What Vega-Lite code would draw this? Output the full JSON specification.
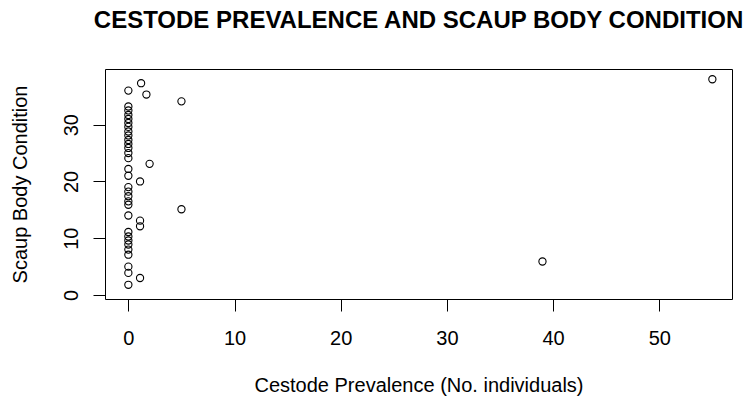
{
  "$schema": "https://vega.github.io/schema/vega-lite/v6.json",
  "width": 627,
  "height": 230,
  "autosize": {"type": "none"},
  "padding": {"left": 105, "top": 69, "right": 22, "bottom": 101},
  "background": "white",
  "title": {
    "text": "CESTODE PREVALENCE AND SCAUP BODY CONDITION",
    "font": "Liberation Sans",
    "fontSize": 24,
    "fontWeight": "bold",
    "color": "#000",
    "anchor": "middle",
    "baseline": "alphabetic",
    "offset": 17.5
  },
  "data": {
    "values": [
      {"cestodes": 0, "condition": 36.0},
      {"cestodes": 0, "condition": 33.2},
      {"cestodes": 0, "condition": 32.5},
      {"cestodes": 0, "condition": 31.7},
      {"cestodes": 0, "condition": 31.0},
      {"cestodes": 0, "condition": 30.3},
      {"cestodes": 0, "condition": 29.6},
      {"cestodes": 0, "condition": 28.8},
      {"cestodes": 0, "condition": 28.1},
      {"cestodes": 0, "condition": 27.3},
      {"cestodes": 0, "condition": 26.6},
      {"cestodes": 0, "condition": 25.9},
      {"cestodes": 0, "condition": 25.0},
      {"cestodes": 0, "condition": 24.1},
      {"cestodes": 0, "condition": 22.2},
      {"cestodes": 0, "condition": 21.0},
      {"cestodes": 0, "condition": 19.0},
      {"cestodes": 0, "condition": 18.2},
      {"cestodes": 0, "condition": 17.4},
      {"cestodes": 0, "condition": 16.5},
      {"cestodes": 0, "condition": 15.9},
      {"cestodes": 0, "condition": 14.0},
      {"cestodes": 0, "condition": 11.1},
      {"cestodes": 0, "condition": 10.3},
      {"cestodes": 0, "condition": 9.6},
      {"cestodes": 0, "condition": 8.9},
      {"cestodes": 0, "condition": 8.0},
      {"cestodes": 0, "condition": 7.1},
      {"cestodes": 0, "condition": 5.0},
      {"cestodes": 0, "condition": 3.9},
      {"cestodes": 0, "condition": 1.8},
      {"cestodes": 1.2, "condition": 37.3},
      {"cestodes": 1.7, "condition": 35.3},
      {"cestodes": 5, "condition": 34.1},
      {"cestodes": 2, "condition": 23.1},
      {"cestodes": 1.1, "condition": 20.0},
      {"cestodes": 5, "condition": 15.1},
      {"cestodes": 1.1, "condition": 13.1},
      {"cestodes": 1.1, "condition": 12.1},
      {"cestodes": 1.1, "condition": 3.0},
      {"cestodes": 39, "condition": 5.9},
      {"cestodes": 55, "condition": 38.0}
    ]
  },
  "mark": {"type": "point", "shape": "circle", "filled": false, "stroke": "#000", "strokeWidth": 1.1, "size": 52, "opacity": 1},
  "encoding": {
    "x": {
      "field": "cestodes",
      "type": "quantitative",
      "scale": {"domain": [-2.2, 56.85], "nice": false, "zero": false},
      "axis": {
        "title": "Cestode Prevalence (No. individuals)",
        "values": [0, 10, 20, 30, 40, 50],
        "grid": false,
        "domain": false,
        "tickSize": 12,
        "tickColor": "#000",
        "labelFont": "Liberation Sans",
        "labelFontSize": 20,
        "labelColor": "#000",
        "labelBaseline": "alphabetic",
        "labelPadding": 33,
        "labelFlush": false,
        "labelOverlap": false,
        "titleFont": "Liberation Sans",
        "titleFontSize": 20,
        "titleFontWeight": "normal",
        "titleColor": "#000",
        "titleBaseline": "alphabetic",
        "titleAlign": "center",
        "titleX": 313.5,
        "titleY": 92
      }
    },
    "y": {
      "field": "condition",
      "type": "quantitative",
      "scale": {"domain": [-0.7, 39.8], "nice": false, "zero": false},
      "axis": {
        "title": "Scaup Body Condition",
        "values": [0, 10, 20, 30],
        "grid": false,
        "domain": false,
        "tickSize": 12,
        "tickColor": "#000",
        "labelFont": "Liberation Sans",
        "labelFontSize": 20,
        "labelColor": "#000",
        "labelAngle": -90,
        "labelAlign": "center",
        "labelBaseline": "alphabetic",
        "labelPadding": 16,
        "labelFlush": false,
        "labelOverlap": false,
        "titleFont": "Liberation Sans",
        "titleFontSize": 20,
        "titleFontWeight": "normal",
        "titleColor": "#000",
        "titleAngle": -90,
        "titleAlign": "center",
        "titleBaseline": "alphabetic",
        "titleX": -79,
        "titleY": 115
      }
    }
  },
  "config": {
    "view": {"stroke": "#000", "strokeWidth": 1}
  }
}
